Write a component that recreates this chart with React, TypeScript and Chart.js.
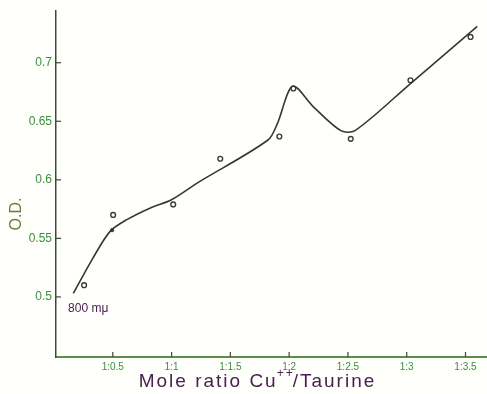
import React, { useEffect, useRef } from "react";
import { Chart, registerables } from "chart.js";

Chart.register(...registerables);

// Smooth fitted curve
const curveX = [0.164, 0.33, 0.477, 0.62, 0.82, 1.0, 1.23, 1.82, 1.9, 2.03, 2.2, 2.44, 2.56, 3.03, 3.6];
const curveY = [0.503, 0.533, 0.556, 0.566, 0.576, 0.583, 0.598, 0.634, 0.648, 0.68, 0.663, 0.642, 0.642, 0.682, 0.731];

// Measured points (open circles)
const pointX = [0.256, 0.503, 1.014, 1.414, 1.917, 2.036, 2.524, 3.032, 3.543];
const pointY = [0.51, 0.57, 0.579, 0.618, 0.637, 0.678, 0.635, 0.685, 0.722];

// Small mark on the curve
const markX = [0.494];
const markY = [0.557];

const xTickValues = [0.5, 1, 1.5, 2, 2.5, 3, 3.5];
const xTickLabels = ["1:0.5", "1:1", "1:1.5", "1:2", "1:2.5", "1:3", "1:3.5"];
const yTickValues = [0.5, 0.55, 0.6, 0.65, 0.7];
const yTickLabels = ["0.5", "0.55", "0.6", "0.65", "0.7"];

const xTitleMain = "Mole ratio Cu";
const xTitleSup = "++";
const xTitleEnd = "/Taurine";
const yTitle = "O.D.";
const curveLabel = "800 mμ";

const AXIS_COLOR = "#3d4a3a";
const XAXIS_COLOR = "#5c8f4c";
const TICK_COLOR = "#3a8f3c";
const TITLE_COLOR = "#4a2050";
const LINE_COLOR = "#343834";
const FONT = "'Liberation Sans', Arial, sans-serif";

const decorPlugin = {
  id: "decor",
  afterDraw(chart: any) {
    const ctx = chart.ctx;
    const xs = chart.scales.x;
    const ys = chart.scales.y;
    const area = chart.chartArea;
    ctx.save();
    // extend x axis line to the right edge of the canvas
    ctx.strokeStyle = XAXIS_COLOR;
    ctx.lineWidth = 2;
    ctx.beginPath();
    ctx.moveTo(area.right - 1, area.bottom);
    ctx.lineTo(chart.width, area.bottom);
    ctx.stroke();

    // inside tick marks
    ctx.strokeStyle = AXIS_COLOR;
    ctx.lineWidth = 1.2;
    xTickValues.forEach((v) => {
      const px = xs.getPixelForValue(v);
      ctx.beginPath();
      ctx.moveTo(px, area.bottom);
      ctx.lineTo(px, area.bottom - 5);
      ctx.stroke();
    });
    yTickValues.forEach((v) => {
      const py = ys.getPixelForValue(v);
      ctx.beginPath();
      ctx.moveTo(area.left, py);
      ctx.lineTo(area.left + 5, py);
      ctx.stroke();
    });

    // x title with superscript
    ctx.fillStyle = TITLE_COLOR;
    ctx.textBaseline = "alphabetic";
    ctx.textAlign = "left";
    (ctx as any).letterSpacing = "2px";
    const mainFont = "19px " + FONT;
    const supFont = "12px " + FONT;
    ctx.font = mainFont;
    const w1 = ctx.measureText(xTitleMain).width;
    const w3 = ctx.measureText(xTitleEnd).width;
    ctx.font = supFont;
    const w2 = ctx.measureText(xTitleSup).width;
    const total = w1 + w2 + w3;
    const cx = 259;
    const x0 = cx - total / 2;
    const base = 387;
    ctx.font = mainFont;
    ctx.fillText(xTitleMain, x0, base);
    ctx.font = supFont;
    ctx.fillText(xTitleSup, x0 + w1 - 1, base - 10);
    ctx.font = mainFont;
    ctx.fillText(xTitleEnd, x0 + w1 + w2 - 3, base);
    (ctx as any).letterSpacing = "0px";

    // y title
    ctx.save();
    ctx.translate(17, 214);
    ctx.rotate(-Math.PI / 2);
    ctx.font = "16px " + FONT;
    ctx.fillStyle = "#6a7a3a";
    ctx.textAlign = "center";
    ctx.textBaseline = "middle";
    ctx.fillText(yTitle, 0, 0);
    ctx.restore();

    // curve label
    ctx.font = "12px " + FONT;
    ctx.fillStyle = TITLE_COLOR;
    ctx.textAlign = "left";
    ctx.textBaseline = "alphabetic";
    ctx.fillText(curveLabel, xs.getPixelForValue(0.12), ys.getPixelForValue(0.4875));
    ctx.restore();
  },
};

export default function App() {
  const canvasRef = useRef<HTMLCanvasElement | null>(null);

  useEffect(() => {
    if (!canvasRef.current) return;
    const curveData = curveX.map((x, i) => ({ x, y: curveY[i] }));
    const pointData = pointX.map((x, i) => ({ x, y: pointY[i] }));
    const markData = markX.map((x, i) => ({ x, y: markY[i] }));

    const chart = new Chart(canvasRef.current, {
      type: "scatter",
      data: {
        datasets: [
          {
            label: "curve",
            data: curveData,
            showLine: true,
            borderColor: LINE_COLOR,
            borderWidth: 1.6,
            pointRadius: 0,
            tension: 0.3,
            fill: false,
            clip: false,
          },
          {
            label: "points",
            data: pointData,
            showLine: false,
            pointRadius: 2.4,
            pointBorderWidth: 1.4,
            pointBorderColor: "#3e3a44",
            pointBackgroundColor: "rgba(255,255,255,0)",
          },
          {
            label: "mark",
            data: markData,
            showLine: false,
            pointRadius: 1.6,
            pointBorderWidth: 1,
            pointBorderColor: LINE_COLOR,
            pointBackgroundColor: LINE_COLOR,
          },
        ],
      } as any,
      options: {
        responsive: false,
        animation: false,
        layout: { padding: { top: 10, right: 0, left: 0, bottom: 0 } },
        plugins: {
          legend: { display: false },
          tooltip: { enabled: false },
        },
        scales: {
          x: {
            type: "linear",
            min: 0.017,
            max: 3.637,
            afterBuildTicks: (scale: any) => {
              scale.ticks = xTickValues.map((v) => ({ value: v }));
            },
            afterFit: (scale: any) => {
              scale.height = 37;
            },
            ticks: {
              autoSkip: false,
              maxRotation: 0,
              padding: 4,
              color: TICK_COLOR,
              font: { size: 10, family: FONT },
              callback: (_v: any, i: number) => xTickLabels[i],
            },
            grid: { display: true, drawOnChartArea: false, drawTicks: false },
            border: { display: true, color: XAXIS_COLOR, width: 2 },
          },
          y: {
            type: "linear",
            min: 0.4487,
            max: 0.744,
            afterBuildTicks: (scale: any) => {
              scale.ticks = yTickValues.map((v) => ({ value: v }));
            },
            afterFit: (scale: any) => {
              scale.width = 56;
            },
            ticks: {
              autoSkip: false,
              padding: 4,
              color: TICK_COLOR,
              font: { size: 12, family: FONT },
              callback: (_v: any, i: number) => yTickLabels[i],
            },
            grid: { display: true, drawOnChartArea: false, drawTicks: false },
            border: { display: true, color: AXIS_COLOR, width: 1.5 },
          },
        },
      } as any,
      plugins: [decorPlugin],
    });
    return () => chart.destroy();
  }, []);

  return (
    <div style={{ position: "fixed", left: 0, top: 0, width: 487, height: 394, background: "#fffffb" }}>
      <canvas ref={canvasRef} width={487} height={394} />
    </div>
  );
}
